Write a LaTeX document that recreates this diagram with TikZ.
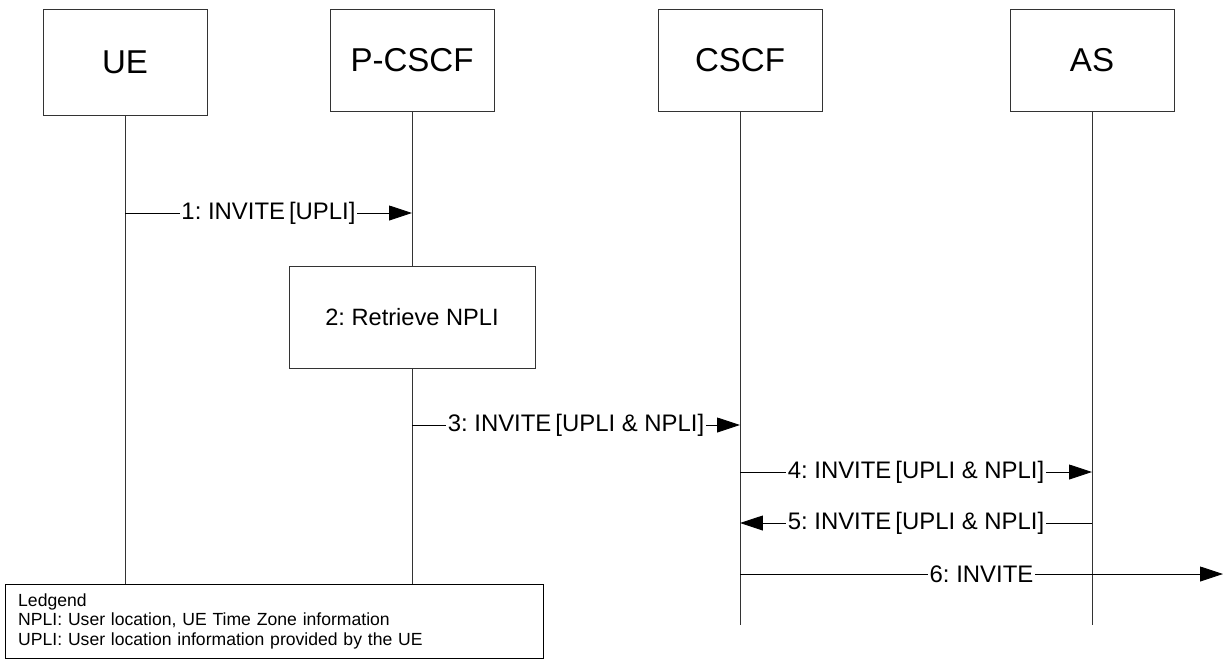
\documentclass[tikz,border=0pt]{standalone}
\usepackage{fontspec}
\setmainfont{Liberation Sans}
\usetikzlibrary{arrows.meta,positioning}
\frenchspacing

\begin{document}
\begin{tikzpicture}[x=0.025cm, y=-0.025cm,
    actor/.style={draw=black!80, fill=white, line width=0.6pt, minimum width=4.1cm, minimum height=2.55cm, font=\fontsize{23.5}{27}\selectfont},
    life/.style={draw=black!80, line width=0.6pt},
    msg/.style={-{Triangle[length=0.57cm,width=0.37cm]}, line width=0.6pt},
    lbl/.style={fill=white, inner xsep=1pt, inner ysep=2pt, font=\fontsize{17}{20}\selectfont},
    stepbox/.style={draw=black!80, fill=white, line width=0.6pt, minimum width=6.15cm, minimum height=2.55cm, font=\fontsize{16.8}{20}\selectfont},
    legend/.style={draw=black, fill=white, line width=0.6pt, anchor=north west, align=left, text width=12.8cm, inner xsep=0.32cm, minimum height=1.85cm, font=\fontsize{12.5}{14.2}\selectfont}
  ]
    \useasboundingbox (0,0) rectangle (1225,659);

    \node[actor, minimum height=2.65cm] (ue) at (125,62) {UE};
    \node[actor] (pcscf) at (412,60) {P-CSCF};
    \node[actor] (cscf) at (740,60) {CSCF};
    \node[actor] (as) at (1092,60) {AS};

    \coordinate (bot) at (0,625);
    \draw[life] (ue.south) -- (ue |- bot);
    \draw[life] (pcscf.south) -- (pcscf |- bot);
    \draw[life] (cscf.south) -- (cscf |- bot);
    \draw[life] (as.south) -- (as |- bot);

    \node[stepbox] (retr) at (412,317) {2: Retrieve NPLI};

    \node[legend] (leg) at (5,584) {Ledgend\\NPLI: User location, UE Time Zone information\\UPLI: User location information provided by the UE};

    \coordinate (m1) at (0,213);
    \coordinate (m3) at (0,425);
    \coordinate (m4) at (0,472);
    \coordinate (m5) at (0,523);
    \coordinate (out6) at (1223,574);

    \draw[msg] (ue |- m1) -- node[lbl] {1: INVITE\,[UPLI]} (pcscf |- m1);
    \draw[msg] (pcscf |- m3) -- node[lbl] {3: INVITE\,[UPLI \& NPLI]} (cscf |- m3);
    \draw[msg] (cscf |- m4) -- node[lbl] {4: INVITE\,[UPLI \& NPLI]} (as |- m4);
    \draw[msg] (as |- m5) -- node[lbl] {5: INVITE\,[UPLI \& NPLI]} (cscf |- m5);
    \draw[msg] (cscf |- out6) -- node[lbl] {6: INVITE} (out6);
  \end{tikzpicture}
\end{document}
